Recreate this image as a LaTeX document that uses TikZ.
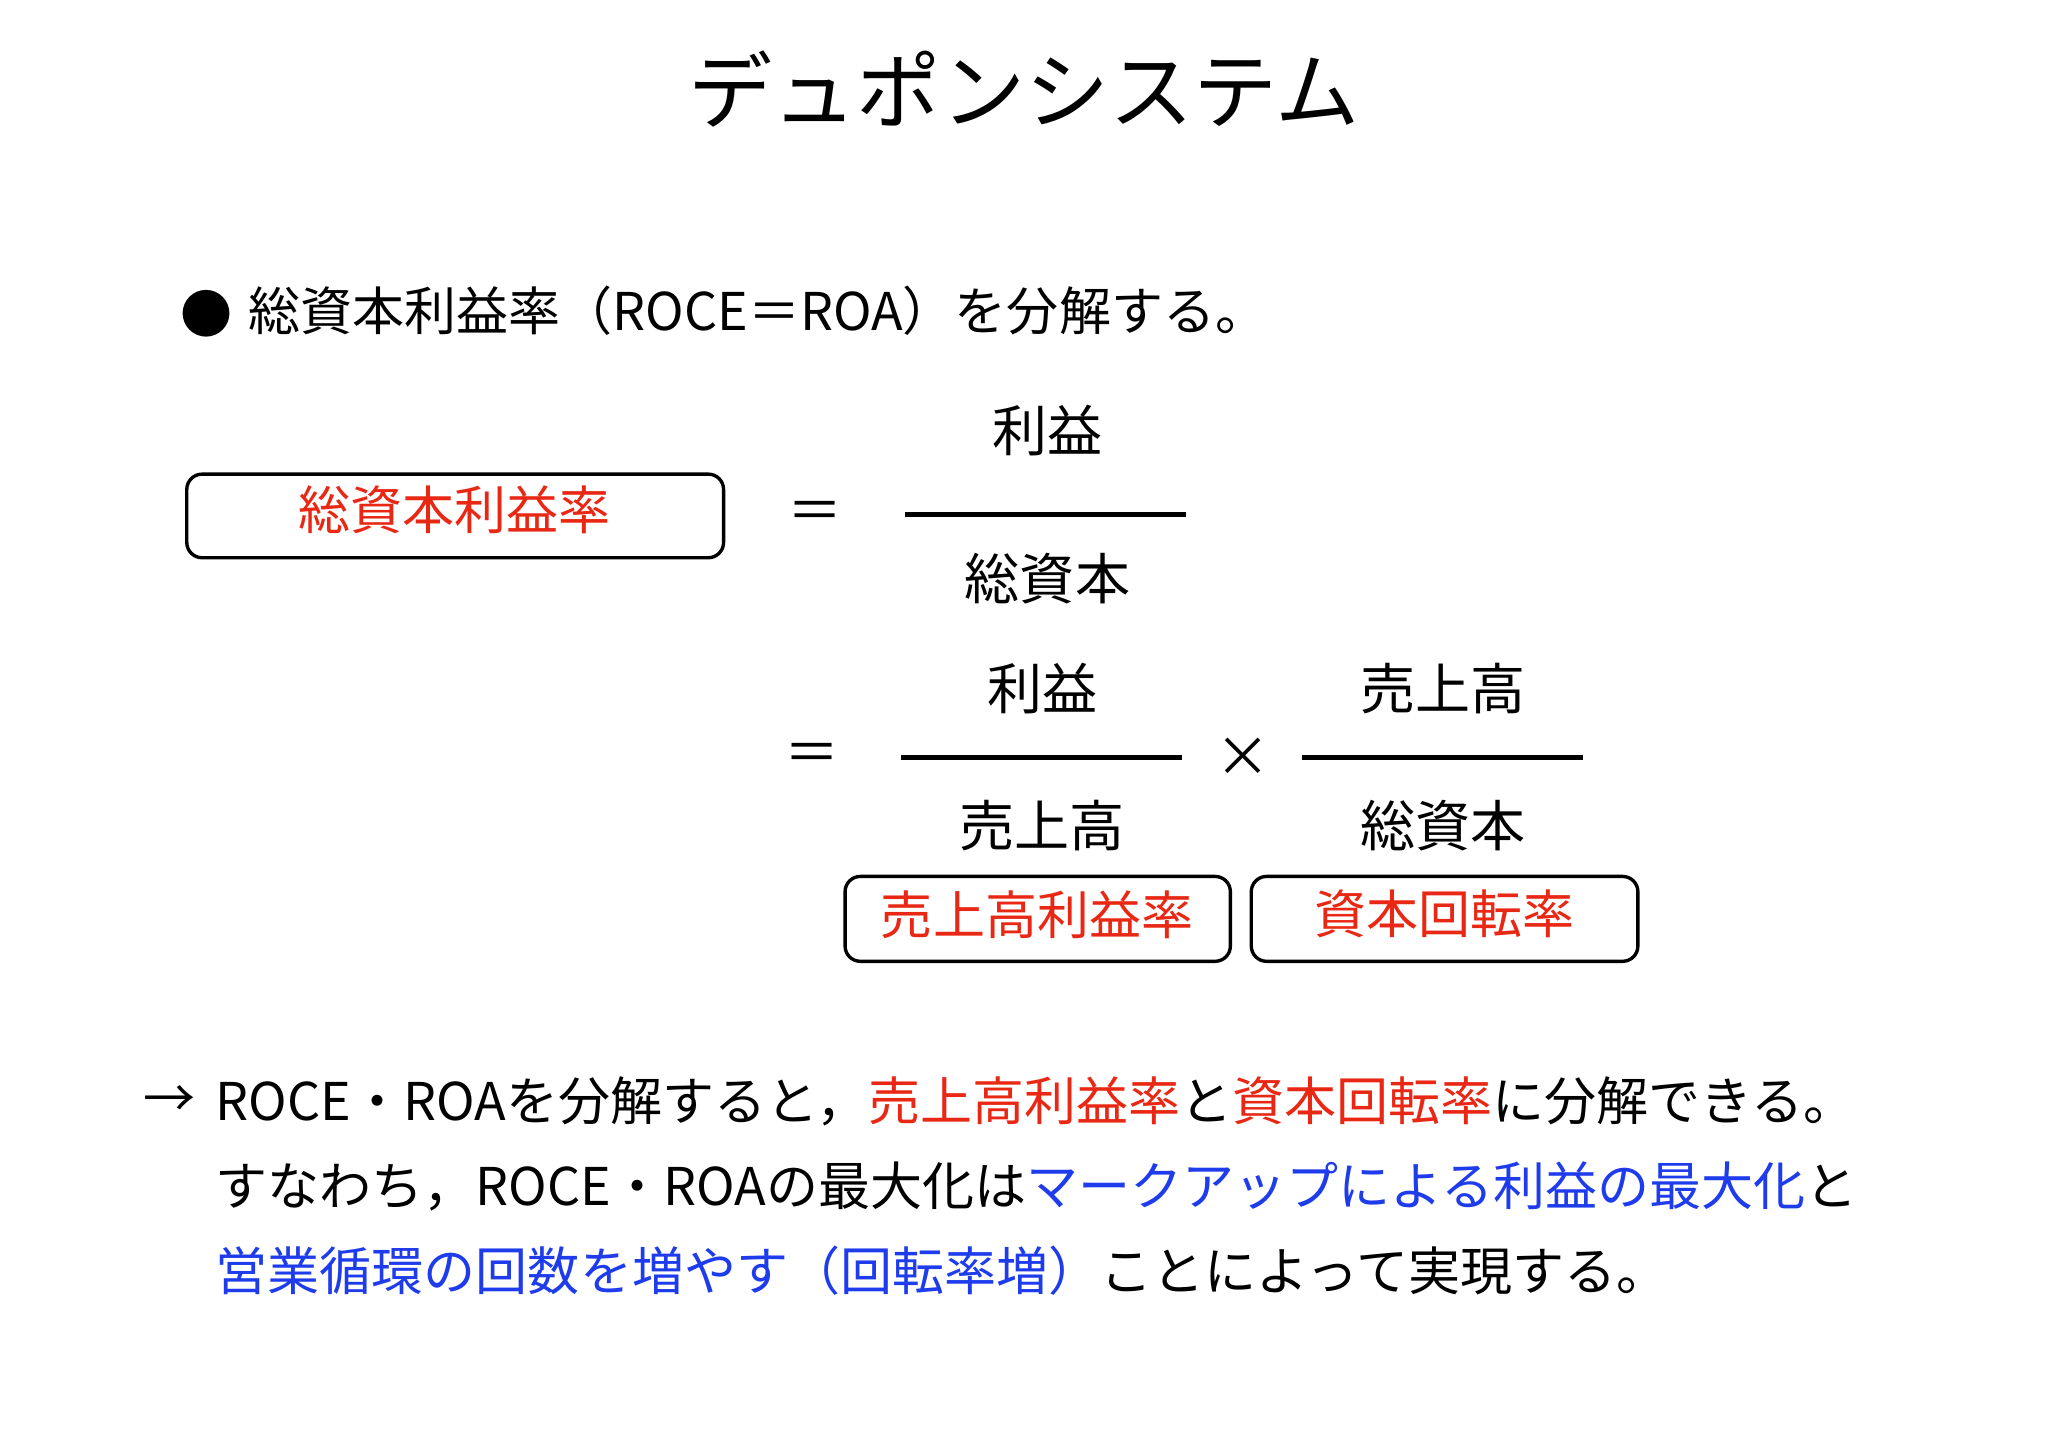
\documentclass[tikz,border=0pt]{standalone}
\usepackage{fontspec}
\setmainfont{Noto Sans CJK JP}
\definecolor{myred}{RGB}{232,40,20}
\definecolor{myblue}{RGB}{30,60,235}
\begin{document}
\begin{tikzpicture}[x=0.03cm,y=-0.03cm,
  txt/.style={inner sep=0pt,font=\fontsize{34pt}{40pt}\selectfont},
  frac/.style={inner sep=0pt,font=\fontsize{36pt}{40pt}\selectfont},
  rbox/.style={draw,line width=2.2pt,rounded corners=10pt},
  fline/.style={line width=3pt}]
\useasboundingbox (0,0) rectangle (1568,1107);
\node[inner sep=0pt,font=\fontsize{55pt}{60pt}\selectfont] (title) at (784,68) {デュポンシステム};
\node[txt] (dot) at (158,240) {●};
\node[txt,anchor=west] (bullet) at (190,238) {総資本利益率（ROCE＝ROA）を分解する。};
% row 1
\draw[rbox] (143,363) rectangle (554,427);
\node[txt,text=myred] (b1) at (348,390) {総資本利益率};
\node[frac] (eq1) at (624,395) {＝};
\node[frac] (n1) at (802,330) {利益};
\draw[fline] (693,394) -- (908,394);
\node[frac] (d1) at (802,443) {総資本};
% row 2
\node[frac] (eq2) at (622,580) {＝};
\node[frac] (n2) at (798,527) {利益};
\draw[fline] (690,580) -- (905,580);
\node[frac] (d2) at (798,632) {売上高};
\node[frac] (x) at (952,580) {×};
\node[frac] (n3) at (1105,527) {売上高};
\draw[fline] (997,580) -- (1212,580);
\node[frac] (d3) at (1105,632) {総資本};
\draw[rbox] (647,671) rectangle (942,736);
\node[txt,text=myred] (b2) at (794,700) {売上高利益率};
\draw[rbox] (958,671) rectangle (1254,736);
\node[txt,text=myred] (b3) at (1106,700) {資本回転率};
% bottom
\node[txt,anchor=east] (arr) at (150,843) {→};
\node[txt,anchor=west] (l1) at (165,843) {ROCE・ROAを分解すると，\textcolor{myred}{売上高利益率}と\textcolor{myred}{資本回転率}に分解できる。};
\node[txt,anchor=west] (l2) at (165,908) {すなわち，ROCE・ROAの最大化は\textcolor{myblue}{マークアップによる利益の最大化}と};
\node[txt,anchor=west] (l3) at (165,973) {\textcolor{myblue}{営業循環の回数を増やす（回転率増）}ことによって実現する。};
\end{tikzpicture}
\end{document}
